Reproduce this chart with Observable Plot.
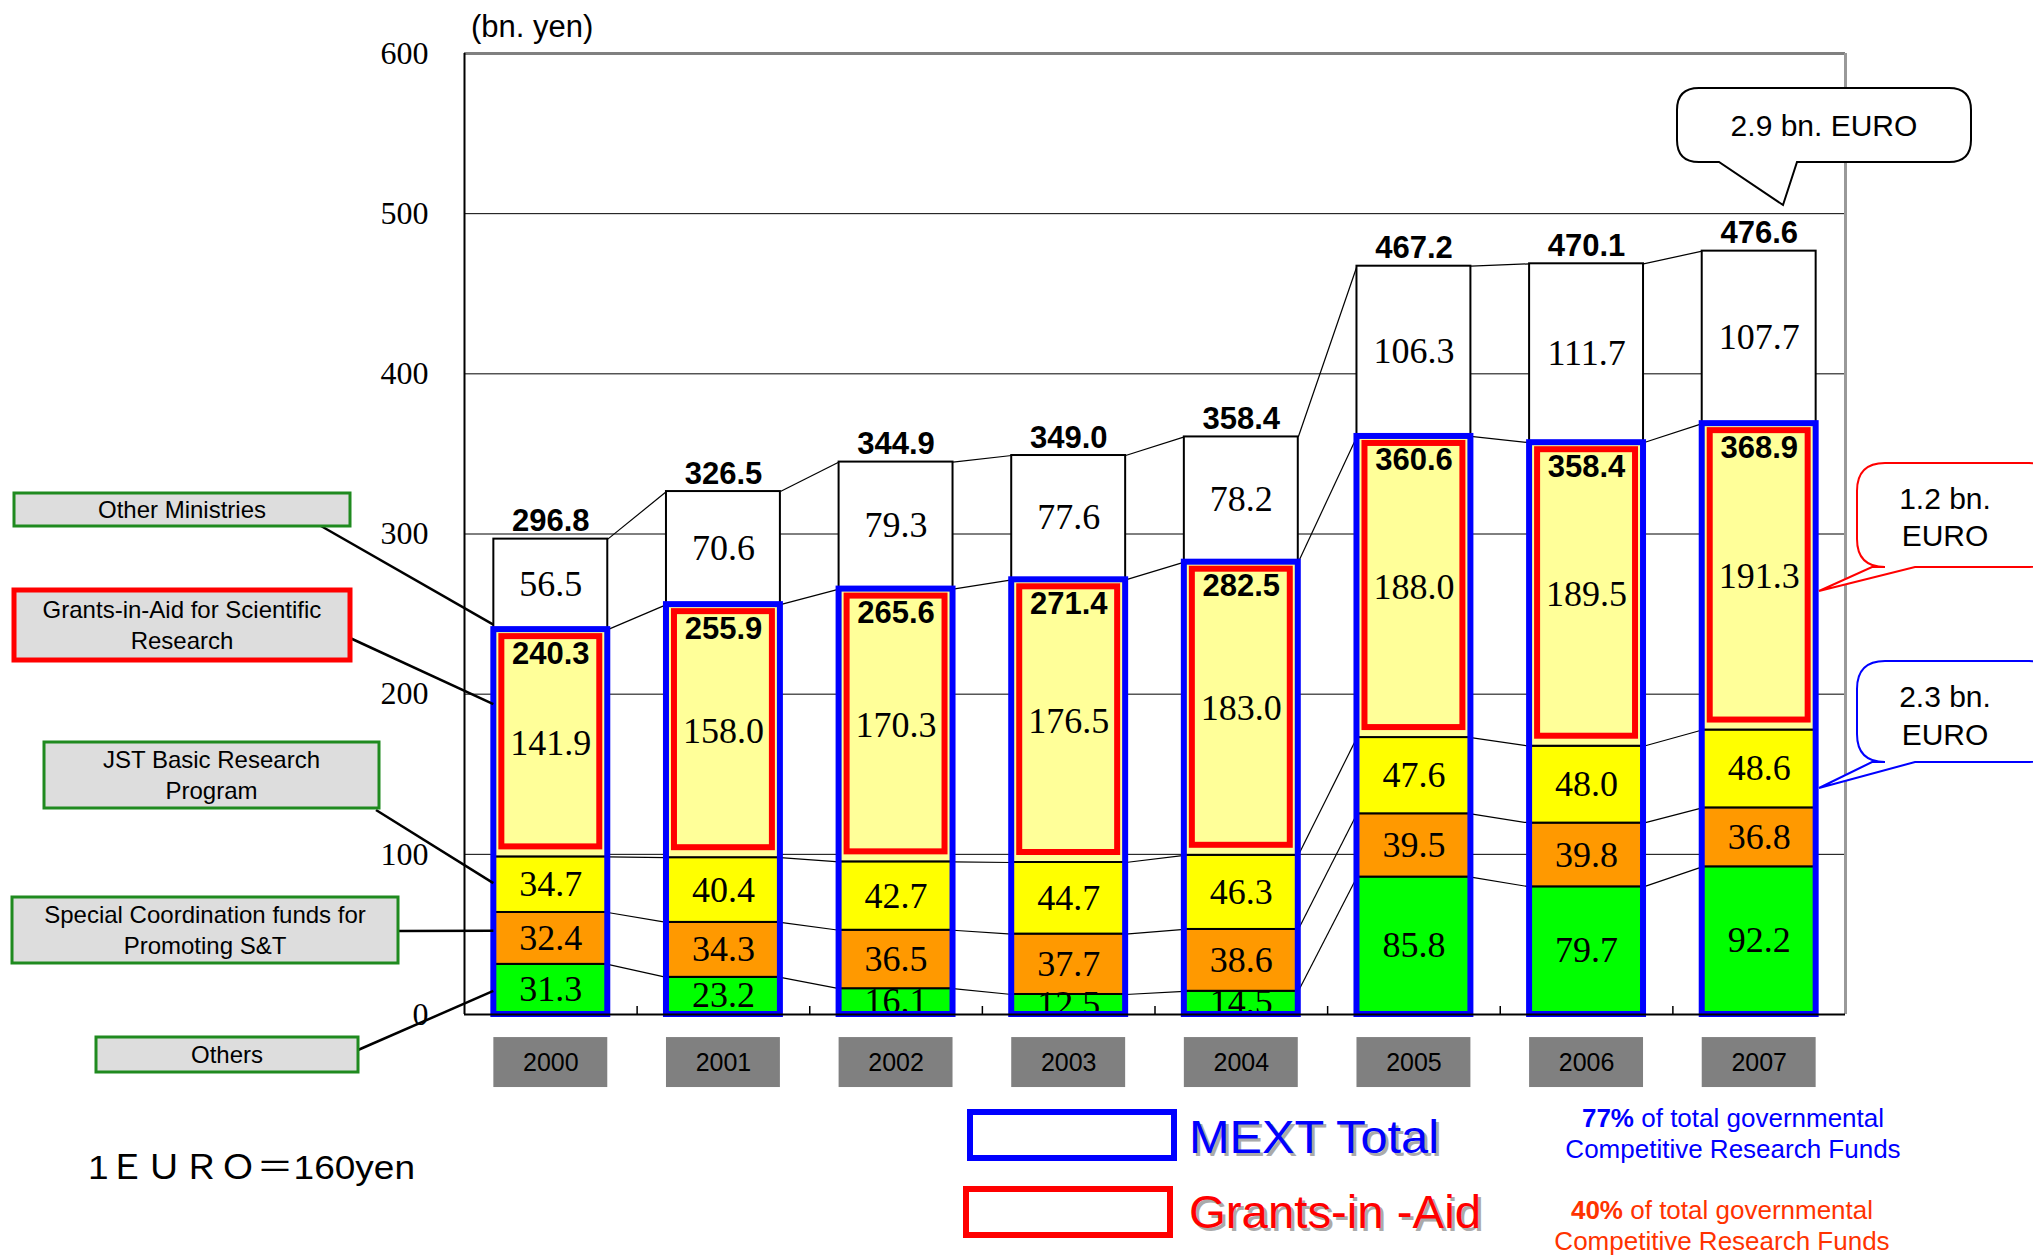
<!DOCTYPE html>
<html><head><meta charset="utf-8">
<script src="https://cdn.jsdelivr.net/npm/d3@7"></script>
<script src="https://cdn.jsdelivr.net/npm/@observablehq/plot@0.6"></script>
<style>html,body{margin:0;padding:0;background:#fff;} #chart{position:relative;width:2033px;height:1257px;overflow:hidden}</style>
</head><body><div id="chart"></div>
<script>
// ---------- data ----------
const years = [2000, 2001, 2002, 2003, 2004, 2005, 2006, 2007];
const others          = [31.3, 23.2, 16.1, 12.5, 14.5, 85.8, 79.7, 92.2];
const specialFunds    = [32.4, 34.3, 36.5, 37.7, 38.6, 39.5, 39.8, 36.8];
const jstBasic        = [34.7, 40.4, 42.7, 44.7, 46.3, 47.6, 48.0, 48.6];
const grantsInAid     = [141.9, 158.0, 170.3, 176.5, 183.0, 188.0, 189.5, 191.3];
const otherMinistries = [56.5, 70.6, 79.3, 77.6, 78.2, 106.3, 111.7, 107.7];
const mextTotalLabels  = ["240.3", "255.9", "265.6", "271.4", "282.5", "360.6", "358.4", "368.9"];
const grandTotalLabels = ["296.8", "326.5", "344.9", "349.0", "358.4", "467.2", "470.1", "476.6"];
const seriesNames = ["Others", "Special Coordination funds for Promoting S&T", "JST Basic Research Program", "Grants-in-Aid for Scientific Research", "Other Ministries"];
const seriesColors = ["#00FF00", "#FF9900", "#FFFF00", "#FFFF99", "#FFFFFF"];
const yTicks = [0, 100, 200, 300, 400, 500, 600];
const gridValues = [100, 200, 300, 400, 500];

// ---------- derived tables ----------
const HW = 0.33; // half bar width in year units
const seriesValues = [others, specialFunds, jstBasic, grantsInAid, otherMinistries];
const segments = [];
years.forEach((yr, i) => {
  let base = 0;
  seriesValues.forEach((vals, s) => {
    segments.push({year: yr, i, s, series: seriesNames[s], value: vals[i], y1: base, y2: base + vals[i]});
    base += vals[i];
  });
});
const seg = (i, s) => segments[i * seriesNames.length + s];
const links = [];
for (let s = 0; s < seriesNames.length; s++) {
  for (let i = 0; i < years.length - 1; i++) {
    links.push({x1: years[i] + HW, y1: seg(i, s).y2, x2: years[i + 1] - HW, y2: seg(i + 1, s).y2});
  }
}
const mextRows = years.map((yr, i) => ({year: yr, top: seg(i, 3).y2, label: mextTotalLabels[i]}));
const totalRows = years.map((yr, i) => ({year: yr, top: seg(i, 4).y2, label: grandTotalLabels[i]}));
const giaRows = segments.filter(d => d.s === 3);
const boundaries = years.slice(1).map(y => y - 0.5);

const SANS = "Liberation Sans, Arial, sans-serif";
const SERIF = "Liberation Serif, Times New Roman, serif";

const plot = Plot.plot({
  width: 2033, height: 1257,
  marginLeft: 464, marginRight: 188, marginTop: 53, marginBottom: 243,
  x: {domain: [1999.5, 2007.5], axis: null},
  y: {domain: [0, 600], axis: null},
  style: {fontFamily: SANS, fontSize: "25px", background: "white", overflow: "visible", color: "#000"},
  marks: [
    Plot.ruleY(gridValues, {stroke: "#000", strokeWidth: 1}),
    Plot.ruleY([600], {stroke: "#808080", strokeWidth: 3}),
    Plot.ruleX([2007.5], {y1: () => 0, y2: () => 600, stroke: "#999", strokeWidth: 3}),
    Plot.ruleX([1999.5], {y1: () => 0, y2: () => 600, stroke: "#000", strokeWidth: 2}),
    Plot.ruleX(boundaries, {y1: () => 0, y2: () => 5, stroke: "#000", strokeWidth: 1.5}),
    Plot.link(links, {x1: "x1", y1: "y1", x2: "x2", y2: "y2", stroke: "#000", strokeWidth: 1.2}),
    Plot.rect(segments, {x1: d => d.year - HW, x2: d => d.year + HW, y1: "y1", y2: "y2",
      fill: d => seriesColors[d.s], stroke: "#000", strokeWidth: 2}),
    Plot.text(segments, {x: "year", y: d => (d.y1 + d.y2) / 2, text: d => d.value.toFixed(1),
      fontFamily: SERIF, fontSize: 36, fill: "#000"}),
    Plot.rect(giaRows, {x1: d => d.year - HW, x2: d => d.year + HW, y1: "y1", y2: "y2",
      fill: "none", stroke: "#FF0000", strokeWidth: 6, insetLeft: 8, insetRight: 8, insetTop: 7, insetBottom: 10}),
    Plot.rect(mextRows, {x1: d => d.year - HW, x2: d => d.year + HW, y1: () => 0, y2: "top",
      fill: "none", stroke: "#0000FF", strokeWidth: 6}),
    Plot.text(mextRows, {x: "year", y: "top", text: "label", dy: 24, fontWeight: "bold", fontSize: 31, fontFamily: SANS, fill: "#000"}),
    Plot.text(totalRows, {x: "year", y: "top", text: "label", lineAnchor: "bottom", dy: -8, fontWeight: "bold", fontSize: 31, fontFamily: SANS, fill: "#000"}),
    Plot.ruleY([0], {stroke: "#000", strokeWidth: 2}),
    Plot.text(yTicks, {y: d => d, frameAnchor: "left", textAnchor: "end", dx: -36, text: d => String(d),
      fontFamily: SERIF, fontSize: 32, fill: "#000"}),
    Plot.rect(years, {x1: d => d - HW, x2: d => d + HW, y1: () => -45.6, y2: () => -14.4, fill: "#808080"}),
    Plot.text(years, {x: d => d, y: () => -30, text: d => String(d), fontSize: 25, fontFamily: SANS, fill: "#000"})
  ]
});
document.getElementById("chart").appendChild(plot);

// ---------- annotations ----------
const svg = d3.select(plot);
const sx = plot.scale("x"), sy = plot.scale("y");
const X = v => sx.apply(v), Y = v => sy.apply(v);
const ann = svg.append("g").attr("font-family", SANS).attr("text-anchor", "start");

// y-axis unit
ann.append("text").attr("x", 471).attr("y", 37).attr("font-size", 31).attr("fill", "#000").text("(bn. yen)");

// left series labels
const leftLabels = [
  {lines: ["Other Ministries"], box: [14, 493, 336, 33], border: "#1F8A1F", bw: 3, from: [321, 526], s: 4, frac: 0.05},
  {lines: ["Grants-in-Aid for Scientific", "Research"], box: [14, 590, 336, 70], border: "#FF0000", bw: 5, from: [350, 638], s: 3, frac: 0.67},
  {lines: ["JST Basic Research", "Program"], box: [44, 742, 335, 66], border: "#1F8A1F", bw: 3, from: [376, 810], s: 2, frac: 0.52},
  {lines: ["Special Coordination funds for", "Promoting S&T"], box: [12, 897, 386, 66], border: "#1F8A1F", bw: 3, from: [398, 931], s: 1, frac: 0.64},
  {lines: ["Others"], box: [96, 1037, 262, 35], border: "#1F8A1F", bw: 3, from: [358, 1050], s: 0, frac: 0.46}
];
leftLabels.forEach(L => {
  const sg = seg(0, L.s);
  const tx = X(years[0] - HW), ty = Y(sg.y1 + L.frac * (sg.y2 - sg.y1));
  ann.append("line").attr("x1", L.from[0]).attr("y1", L.from[1]).attr("x2", tx).attr("y2", ty)
    .attr("stroke", "#000").attr("stroke-width", 2.5);
  const [bx, by, bw, bh] = L.box;
  ann.append("rect").attr("x", bx).attr("y", by).attr("width", bw).attr("height", bh)
    .attr("fill", "#DDDDDD").attr("stroke", L.border).attr("stroke-width", L.bw);
  const n = L.lines.length, lh = 31;
  L.lines.forEach((t, k) => {
    ann.append("text").attr("x", bx + bw / 2).attr("y", by + bh / 2 + (k - (n - 1) / 2) * lh)
      .attr("dy", "0.35em").attr("text-anchor", "middle").attr("font-size", 24).attr("fill", "#000").text(t);
  });
});

// callouts
function callout(x, y, w, h, r, bL, bR, tip, color) {
  const p = `M${x + r},${y} H${x + w - r} Q${x + w},${y} ${x + w},${y + r} V${y + h - r} Q${x + w},${y + h} ${x + w - r},${y + h}` +
    ` H${bR} L${tip[0]},${tip[1]} L${bL},${y + h} H${x + r} Q${x},${y + h} ${x},${y + h - r} V${y + r} Q${x},${y} ${x + r},${y} Z`;
  ann.append("path").attr("d", p).attr("fill", "#fff").attr("stroke", color).attr("stroke-width", 2);
}
callout(1677, 88, 294, 74, 22, 1719, 1797, [1783, 205], "#000");
ann.append("text").attr("x", 1824).attr("y", 125).attr("dy", "0.35em").attr("text-anchor", "middle")
  .attr("font-size", 30).attr("fill", "#000").text("2.9 bn. EURO");
callout(1857, 463, 200, 104, 28, 1872, 1915, [1819, 591], "#FF0000");
callout(1857, 661, 200, 101, 28, 1872, 1915, [1819, 788], "#0000FF");
[["1.2 bn.", 498], ["EURO", 535], ["2.3 bn.", 696], ["EURO", 734]].forEach(([t, yy]) => {
  ann.append("text").attr("x", 1945).attr("y", yy).attr("dy", "0.35em").attr("text-anchor", "middle")
    .attr("font-size", 30).attr("fill", "#000").text(t);
});

// legend
function legendItem(rx, ry, label, color, tx, ty, len) {
  ann.append("rect").attr("x", rx).attr("y", ry).attr("width", 204).attr("height", 46)
    .attr("fill", "#fff").attr("stroke", color).attr("stroke-width", 6);
  ann.append("text").attr("x", tx + 3).attr("y", ty + 3).attr("font-size", 47).attr("fill", "#AAAAAA")
    .attr("textLength", len).attr("lengthAdjust", "spacingAndGlyphs").text(label);
  ann.append("text").attr("x", tx).attr("y", ty).attr("font-size", 47).attr("fill", color)
    .attr("textLength", len).attr("lengthAdjust", "spacingAndGlyphs").text(label);
}
legendItem(970, 1112, "MEXT Total", "#0000FF", 1189, 1153, 250);
legendItem(966, 1189, "Grants-in -Aid", "#FF0000", 1189, 1228, 292);

function shareText(cx, y1, pct, color) {
  const t = ann.append("text").attr("x", cx).attr("y", y1).attr("text-anchor", "middle").attr("font-size", 26).attr("fill", color);
  t.append("tspan").attr("font-weight", "bold").text(pct);
  t.append("tspan").text(" of total governmental");
  ann.append("text").attr("x", cx).attr("y", y1 + 31).attr("text-anchor", "middle").attr("font-size", 26).attr("fill", color)
    .text("Competitive Research Funds");
}
shareText(1733, 1127, "77%", "#0000FF");
shareText(1722, 1219, "40%", "#FF3300");

// exchange rate note
ann.append("text").attr("x", 88).attr("y", 1179).attr("font-size", 34)
  .attr("font-family", "Liberation Sans, Noto Sans CJK JP, sans-serif").attr("fill", "#000")
  .attr("textLength", 327).attr("lengthAdjust", "spacingAndGlyphs").text("1ＥＵＲＯ＝160yen");
</script>
</body></html>
